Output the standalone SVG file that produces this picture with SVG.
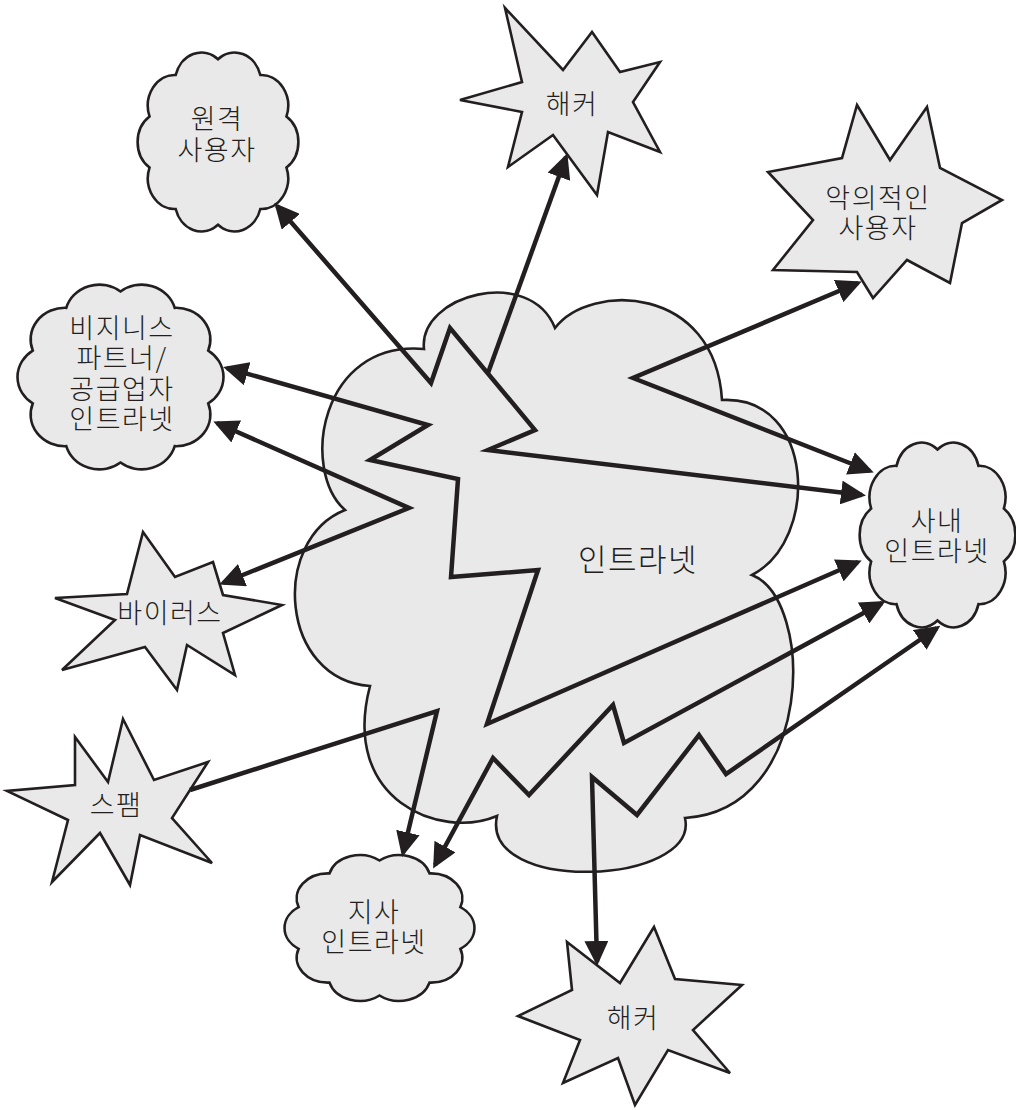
<svg xmlns="http://www.w3.org/2000/svg" xmlns:xlink="http://www.w3.org/1999/xlink" width="1016" height="1110" viewBox="0 0 1016 1110">
<style>
.shape{fill:#e9e9e9;stroke:#231f20;stroke-width:2.6;stroke-linejoin:miter}
.cl{fill:#e9e9e9;stroke:#231f20;stroke-width:2.6;vector-effect:non-scaling-stroke}
.lbl{font-family:"Noto Sans CJK KR","Noto Sans",sans-serif;font-size:27px;font-weight:300;fill:#231f20;text-anchor:middle;dominant-baseline:central;letter-spacing:1.5px}
.big{font-size:31px;letter-spacing:1.5px}
.conn{fill:none;stroke:#231f20;stroke-width:4.5;stroke-linejoin:miter;stroke-miterlimit:10;marker-end:url(#ah)}
.both{marker-start:url(#ah)}
</style>
<defs>
<marker id="ah" viewBox="0 0 25 24" refX="21" refY="12" markerWidth="25" markerHeight="24" markerUnits="userSpaceOnUse" orient="auto-start-reverse">
<path d="M0,0 L25,12 L0,24 Z" fill="#231f20"/>
</marker>
<path id="cloud" class="cl" d="M0,-0.9 A0.334,0.334 0 0 1 0.529,-0.728 A0.334,0.334 0 0 1 0.856,-0.278 A0.334,0.334 0 0 1 0.856,0.278 A0.334,0.334 0 0 1 0.529,0.728 A0.334,0.334 0 0 1 0,0.9 A0.334,0.334 0 0 1 -0.529,0.728 A0.334,0.334 0 0 1 -0.856,0.278 A0.334,0.334 0 0 1 -0.856,-0.278 A0.334,0.334 0 0 1 -0.529,-0.728 A0.334,0.334 0 0 1 0,-0.9 Z"/>
</defs>
<rect width="1016" height="1110" fill="#ffffff"/>

<g id="intranet">
<path class="shape" d="M424,349 C418,295 530,265 555,328 C590,282 715,285 722,400 C815,395 820,540 752,575 C815,600 815,810 685,818 C700,885 480,895 497,816 C440,840 340,800 370,686 C280,680 270,540 345,510 C300,470 320,340 424,349 Z"/>
<text class="lbl big" x="638" y="557">인트라넷</text>
</g>

<g id="remote-user">
<use xlink:href="#cloud" href="#cloud" transform="translate(218,142) scale(80,92)"/>
<text class="lbl" x="217" y="117"><tspan x="217" y="117">원격</tspan><tspan x="217" y="148">사용자</tspan></text>
</g>

<g id="partner-intranet">
<use xlink:href="#cloud" href="#cloud" transform="translate(120.5,377) scale(102.5,95)"/>
<text class="lbl" x="122" y="326"><tspan x="122" y="326">비지니스</tspan><tspan x="122" y="356">파트너/</tspan><tspan x="122" y="387">공급업자</tspan><tspan x="122" y="417">인트라넷</tspan></text>
</g>

<g id="corporate-intranet">
<use xlink:href="#cloud" href="#cloud" transform="translate(937.5,535) scale(77.5,95)"/>
<text class="lbl" x="937" y="519"><tspan x="937" y="519">사내</tspan><tspan x="937" y="549">인트라넷</tspan></text>
</g>

<g id="branch-intranet">
<use xlink:href="#cloud" href="#cloud" transform="translate(379.5,928) scale(94.5,75)"/>
<text class="lbl" x="374" y="910"><tspan x="374" y="910">지사</tspan><tspan x="374" y="940">인트라넷</tspan></text>
</g>

<g id="hacker-top">
<polygon class="shape" points="505,8 563,70 592,32 620,72 660,62 633,102 660,152 608,132 597,195 553,135 508,167 522,112 460,100 522,82"/>
<text class="lbl" x="572" y="102">해커</text>
</g>

<g id="malicious-user">
<polygon class="shape" points="857,105 890,160 927,107 940,168 1002,200 962,223 950,283 907,260 873,298 857,272 773,270 813,220 768,172 842,158"/>
<text class="lbl" x="878" y="196"><tspan x="878" y="196">악의적인</tspan><tspan x="878" y="226">사용자</tspan></text>
</g>

<g id="virus">
<polygon class="shape" points="143,532 175,577 213,562 223,595 282,605 223,633 235,675 187,645 177,690 145,647 62,670 115,620 55,598 127,594"/>
<text class="lbl" x="170" y="611">바이러스</text>
</g>

<g id="spam">
<polygon class="shape" points="123,719 154,780 208,762 172,818 212,863 140,835 130,885 100,833 52,882 68,820 7,791 75,785 75,737 108,782"/>
<text class="lbl" x="116" y="803">스팸</text>
</g>

<g id="hacker-bottom">
<polygon class="shape" points="567,942 620,983 654,927 675,979 742,985 693,1030 730,1073 668,1050 635,1105 618,1058 563,1083 580,1040 518,1016 572,990"/>
<text class="lbl" x="633" y="1016">해커</text>
</g>

<g id="connectors">
<polyline class="conn both" points="277,206 431,383 450,328 535,430 488,450 862,495"/>
<polyline class="conn" points="488,373 566,157"/>
<polyline class="conn both" points="858,283 633,378 870,471"/>
<polyline class="conn both" points="227,368 428,425 370,460 458,479 451,577 538,570 487,724 858,562"/>
<polyline class="conn both" points="217,423 409,508 223,583"/>
<polyline class="conn" points="190,790 437,711 403,853"/>
<polyline class="conn both" points="435,865 493,758 529,795 613,705 624,743 882,603"/>
<polyline class="conn both" points="597,962 592,777 637,815 699,735 726,774 937,628"/>
</g>
</svg>
